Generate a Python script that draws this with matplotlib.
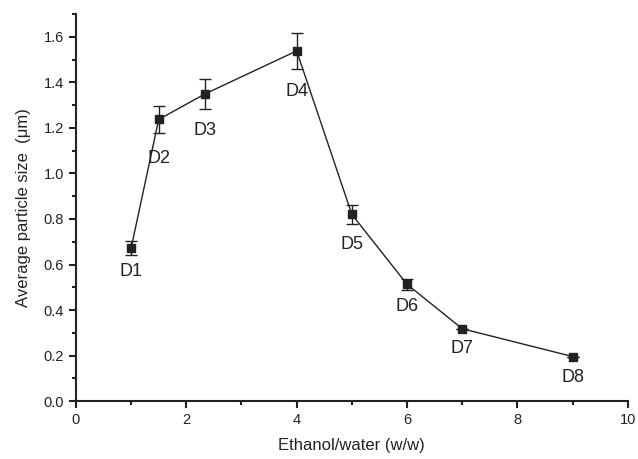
import matplotlib.pyplot as plt
from matplotlib.ticker import MultipleLocator

plt.rcParams["font.family"] = ["Liberation Sans", "DejaVu Sans"]

RATIO = [1.0, 1.5, 2.33, 4.0, 5.0, 6.0, 7.0, 9.0]
SIZE = [0.672, 1.237, 1.348, 1.538, 0.820, 0.513, 0.318, 0.196]
ERR = [0.032, 0.060, 0.066, 0.078, 0.040, 0.025, 0.0, 0.0]
NAMES = ["D1", "D2", "D3", "D4", "D5", "D6", "D7", "D8"]
# label offsets below each point, in points
LABEL_DROP = [17, 28, 26, 29, 22, 16, 14, 15]

fig = plt.figure(figsize=(6.38, 4.59), dpi=100)
ax = fig.add_axes([0.119, 0.126, 0.865, 0.8435])

ax.errorbar(RATIO, SIZE, yerr=ERR, color="#222222", lw=1.0, marker="s",
            markersize=6, capsize=4, capthick=1.0, elinewidth=1.0)

for x, y, name, drop in zip(RATIO, SIZE, NAMES, LABEL_DROP):
    ax.annotate(name, (x, y), xytext=(0, -drop), textcoords="offset points",
                ha="center", va="center", fontsize=13, color="#222222")

ax.set_xlim(0, 10)
ax.set_ylim(0, 1.7)
ax.xaxis.set_major_locator(MultipleLocator(2))
ax.xaxis.set_minor_locator(MultipleLocator(1))
ax.yaxis.set_major_locator(MultipleLocator(0.2))
ax.yaxis.set_minor_locator(MultipleLocator(0.1))
ax.yaxis.set_major_formatter(plt.FormatStrFormatter("%.1f"))

for side in ["top", "right"]:
    ax.spines[side].set_visible(False)
for side in ["left", "bottom"]:
    ax.spines[side].set_linewidth(1.5)
    ax.spines[side].set_color("#222222")

ax.tick_params(which="major", direction="out", length=5, width=1.5,
               labelsize=10.5, colors="#222222")
ax.tick_params(which="minor", direction="out", length=3, width=1.5,
               colors="#222222")

ax.set_xlabel("Ethanol/water (w/w)", fontsize=12, color="#222222", labelpad=8)
ax.set_ylabel("Average particle size  (μm)", fontsize=12, color="#222222",
              labelpad=9)

fig.savefig("out.png", dpi=100)
